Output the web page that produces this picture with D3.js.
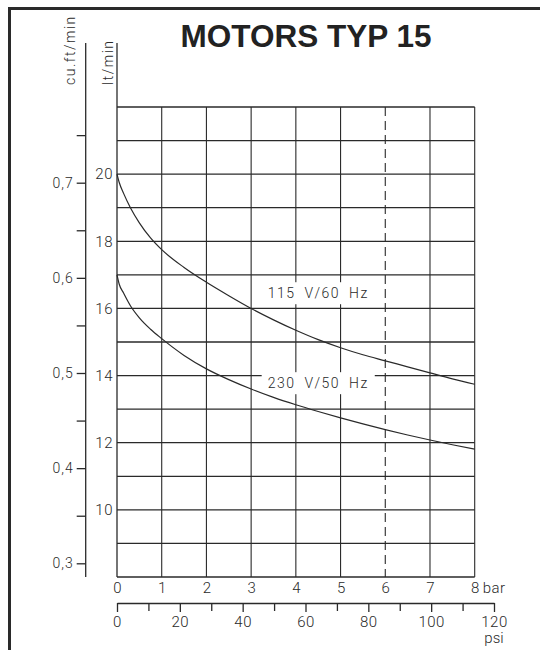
<!DOCTYPE html>
<html>
<head>
<meta charset="utf-8">
<script src="https://cdn.jsdelivr.net/npm/d3@7"></script>
<style>
  html, body { margin: 0; padding: 0; background: #fff; }
  svg { display: block; }
  .t { font-family: Roboto, "Open Sans", sans-serif; font-weight: 300; fill: #2a2a2a; }
</style>
</head>
<body>
<svg id="chart" width="540" height="650"></svg>
<script>
// ---- data ----
const title = "MOTORS TYP 15";
const barTicks = [0, 1, 2, 3, 4, 5, 6, 7, 8];
const dashedBar = 6;
const psiTicks = [0, 20, 40, 60, 80, 100, 120];
const psiMinor = [10, 30, 50, 70, 90, 110];
const ltGrid = [8, 9, 10, 11, 12, 13, 14, 15, 16, 17, 18, 19, 20, 21, 22];
const ltTicks = [10, 12, 14, 16, 18, 20];
const cuTicks = [0.3, 0.4, 0.5, 0.6, 0.7];
const cuMinor = [0.35, 0.45, 0.55, 0.65, 0.75];
const seriesNames = ["115 V/60 Hz", "230 V/50 Hz"];
const bar115 = [0, 0.05, 0.15, 0.3, 0.5, 0.75, 1, 1.5, 2, 2.5, 3, 3.5, 4, 4.5, 5, 5.5, 6, 6.5, 7, 7.5, 8];
const lt115  = [20, 19.75, 19.42, 19.0, 18.55, 18.1, 17.75, 17.22, 16.78, 16.38, 16.0, 15.66, 15.35, 15.07, 14.83, 14.62, 14.44, 14.26, 14.08, 13.9, 13.74];
const bar230 = [0, 0.05, 0.15, 0.3, 0.5, 0.75, 1, 1.5, 2, 2.5, 3, 3.5, 4, 4.5, 5, 5.5, 6, 6.5, 7, 7.5, 8];
const lt230  = [17, 16.72, 16.45, 16.08, 15.72, 15.38, 15.1, 14.6, 14.2, 13.88, 13.6, 13.35, 13.13, 12.93, 12.74, 12.56, 12.39, 12.23, 12.08, 11.94, 11.81];

// ---- layout ----
const svg = d3.select("#chart");
const x = d3.scaleLinear().domain([0, 8]).range([117, 474.7]);
const y = d3.scaleLinear().domain([8, 22]).range([577, 107]);
const yCu = d3.scaleLinear().domain([0.3, 0.7]).range([563.3, 182.7]);
const xPsi = d3.scaleLinear().domain([0, 120]).range([117, 494]);
const ink = "#2a2a2a";

// frame
svg.append("line").attr("x1", 9.5).attr("x2", 9.5).attr("y1", 7).attr("y2", 650)
  .attr("stroke", ink).attr("stroke-width", 3);
svg.append("line").attr("x1", 8).attr("x2", 540).attr("y1", 8.5).attr("y2", 8.5)
  .attr("stroke", ink).attr("stroke-width", 3);

// title
svg.append("text").attr("x", 306).attr("y", 47).attr("text-anchor", "middle")
  .style("font-family", "Liberation Sans, Arial, sans-serif").style("font-weight", "bold")
  .style("font-size", "31.5px").attr("fill", "#222").text(title);

// grid horizontal
const g = svg.append("g");
g.selectAll("line.h").data(ltGrid).join("line")
  .attr("x1", x(0)).attr("x2", x(8)).attr("y1", d => y(d)).attr("y2", d => y(d))
  .attr("stroke", ink).attr("stroke-width", 1.3);
// grid vertical
g.selectAll("line.v").data(barTicks.filter(d => d > 0)).join("line")
  .attr("x1", d => x(d)).attr("x2", d => x(d)).attr("y1", y(22)).attr("y2", y(8))
  .attr("stroke", ink).attr("stroke-width", 1.1)
  .attr("stroke-dasharray", d => d === dashedBar ? "9,5" : null);
// lt axis line (extends above grid)
g.append("line").attr("x1", x(0)).attr("x2", x(0)).attr("y1", 43).attr("y2", y(8))
  .attr("stroke", ink).attr("stroke-width", 1.3);

// label backgrounds + labels
const lblPos = [{b: 3.37, l: 16.45}, {b: 3.37, l: 13.77}];
const lbls = svg.append("g");
seriesNames.forEach((name, i) => {
  const t = lbls.append("text").attr("class", "t")
    .attr("x", x(lblPos[i].b)).attr("y", y(lblPos[i].l)).attr("dy", "0.35em")
    .style("font-size", "14px").style("letter-spacing", "1.5px").style("word-spacing", "4px")
    .text(name);
  const bb = t.node().getBBox();
  lbls.insert("rect", "text").attr("x", bb.x - 6).attr("y", bb.y - 3)
    .attr("width", bb.width + 12).attr("height", bb.height + 6).attr("fill", "#fff");
});

// curves
const line = d3.line().x(d => x(d[0])).y(d => y(d[1])).curve(d3.curveMonotoneX);
[[bar115, lt115], [bar230, lt230]].forEach(([bs, ls]) => {
  svg.append("path").attr("d", line(bs.map((b, i) => [b, ls[i]])))
    .attr("fill", "none").attr("stroke", ink).attr("stroke-width", 1.2);
});

// lt/min tick labels
svg.append("g").selectAll("text").data(ltTicks).join("text").attr("class", "t")
  .attr("x", 113).attr("y", d => y(d)).attr("dy", "0.35em").attr("text-anchor", "end")
  .style("font-size", "15px").style("letter-spacing", "0.5px").text(d => d);

// cu.ft axis
const cuAxis = svg.append("g").attr("transform", "translate(85.7,0)")
  .call(d3.axisLeft(yCu).tickValues(cuTicks).tickSize(9).tickSizeOuter(0)
    .tickFormat(d => d.toFixed(1).replace(".", ",")));
cuAxis.select(".domain").remove();
cuAxis.selectAll("line").attr("stroke", ink).attr("stroke-width", 1.3);
cuAxis.selectAll("text").attr("class", "t").attr("fill", null).attr("x", -12)
  .style("font-size", "14px").style("letter-spacing", "1px");
const cuMinorAxis = svg.append("g").attr("transform", "translate(85.7,0)")
  .call(d3.axisLeft(yCu).tickValues(cuMinor).tickSize(9).tickSizeOuter(0).tickFormat(""));
cuMinorAxis.select(".domain").remove();
cuMinorAxis.selectAll("line").attr("stroke", ink).attr("stroke-width", 1.3);
svg.append("line").attr("x1", 85.7).attr("x2", 85.7).attr("y1", 43).attr("y2", 577)
  .attr("stroke", ink).attr("stroke-width", 1.3);

// axis titles
svg.append("text").attr("class", "t").attr("transform", "translate(75,85) rotate(-90)")
  .style("font-size", "14px").style("letter-spacing", "1.5px").text("cu.ft/min");
svg.append("text").attr("class", "t").attr("transform", "translate(113,85) rotate(-90)")
  .style("font-size", "14px").style("letter-spacing", "1.5px").text("lt/min");

// bar axis
const barAxis = svg.append("g").attr("transform", `translate(0,${y(8)})`)
  .call(d3.axisBottom(x).tickValues(barTicks).tickSize(0).tickPadding(5).tickSizeOuter(0));
barAxis.select(".domain").remove();
barAxis.selectAll("text").attr("class", "t").attr("fill", null).style("font-size", "15px");
svg.append("text").attr("class", "t").attr("x", x(8) + 8).attr("y", y(8) + 5).attr("dy", "0.71em")
  .style("font-size", "15px").style("letter-spacing", "0.5px").text("bar");

// psi axis
const psiY = 603;
const psiAxis = svg.append("g").attr("transform", `translate(0,${psiY})`)
  .call(d3.axisBottom(xPsi).tickValues(psiTicks).tickSize(9).tickPadding(4).tickSizeOuter(0));
psiAxis.select(".domain").attr("stroke", ink).attr("stroke-width", 1.3);
psiAxis.selectAll("line").attr("stroke", ink).attr("stroke-width", 1.3);
psiAxis.selectAll("text").attr("class", "t").attr("fill", null).style("font-size", "15px")
  .style("letter-spacing", "0.5px");
const psiMinorAxis = svg.append("g").attr("transform", `translate(0,${psiY})`)
  .call(d3.axisBottom(xPsi).tickValues(psiMinor).tickSize(8).tickSizeOuter(0).tickFormat(""));
psiMinorAxis.select(".domain").remove();
psiMinorAxis.selectAll("line").attr("stroke", ink).attr("stroke-width", 1.3);
svg.append("text").attr("class", "t").attr("x", xPsi(120)).attr("y", 643).attr("text-anchor", "middle")
  .style("font-size", "15px").text("psi");
</script>
</body>
</html>
